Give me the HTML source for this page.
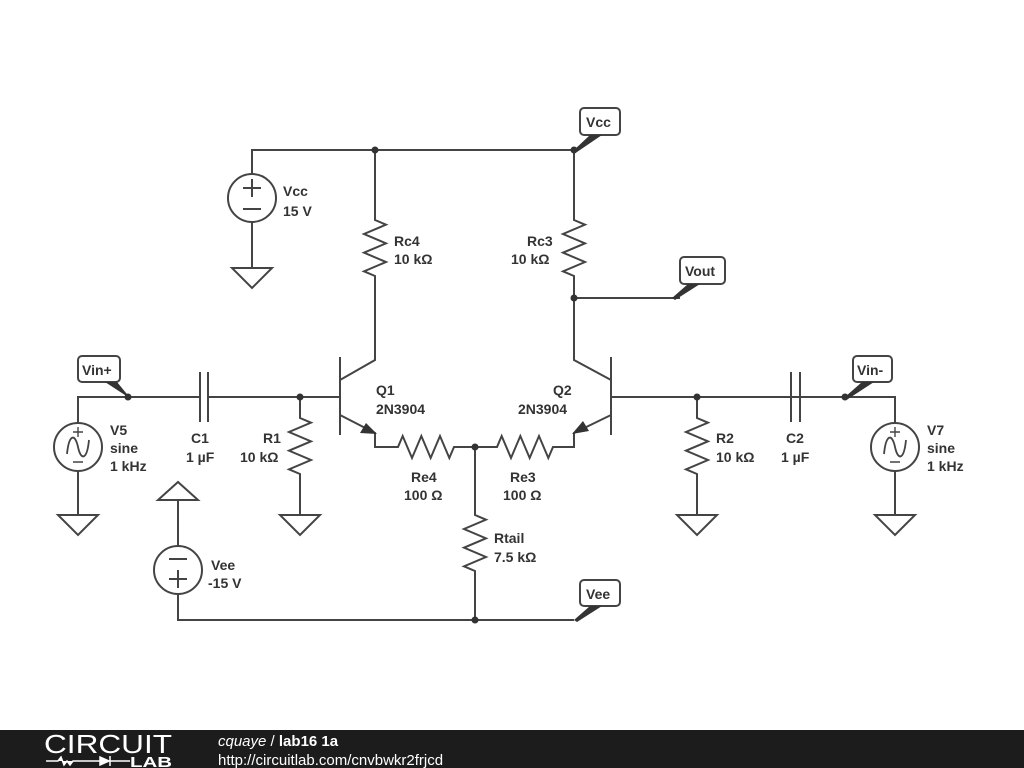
<!DOCTYPE html>
<html><head><meta charset="utf-8"><style>
html,body{margin:0;padding:0;background:#fff;width:1024px;height:768px;overflow:hidden}
svg{display:block}
text{font-family:"Liberation Sans",sans-serif;font-weight:bold;font-size:14px;fill:#333}
</style></head><body>
<svg width="1024" height="768" viewBox="0 0 1024 768">
<g fill="none" stroke="#444" stroke-width="2" stroke-linejoin="miter">
<path d="M252 174 V150 H574"/>
<circle cx="252" cy="198" r="24"/>
<path d="M252 222 V268 M232 268 H272 L252 288 Z"/>
<path d="M243 188 H261 M252 179 V197 M243 209 H261"/>
<path d="M375 150 V220 l11 4.67 l-22 9.33 l22 9.33 l-22 9.33 l22 9.33 l-22 9.33 l11 4.67 V360 L340 380"/>
<path d="M574 150 V220 l11 4.67 l-22 9.33 l22 9.33 l-22 9.33 l22 9.33 l-22 9.33 l11 4.67 V360 L611 380"/>
<path d="M574 298 H680"/>
<path d="M340 357 V435 M300 397 H340 M340 415 L375 433 V447 H398 l4.67 -11 l9.33 22 l9.33 -22 l9.33 22 l9.33 -22 l9.33 22 l4.67 -11 H497 l4.67 -11 l9.33 22 l9.33 -22 l9.33 22 l9.33 -22 l9.33 22 l4.67 -11 H574 V433 L611 415 M611 357 V435 M611 397 H800"/>
<path d="M475 447 V515 l11 4.67 l-22 9.33 l22 9.33 l-22 9.33 l22 9.33 l-22 9.33 l11 4.67 V620 M178 594 V620 H574"/>
<circle cx="178" cy="570" r="24"/>
<path d="M178 546 V500 M158 500 H198 L178 482 Z M169 559 H187 M169 579 H187 M178 570 V588"/>
<path d="M78 423 V397 H200 M200 372 V422 M208 372 V422 M208 397 H300"/>
<circle cx="78" cy="447" r="24"/>
<path d="M78 471 V515 M58 515 H98 L78 535 Z"/>
<path d="M67 454 C69 434 75 433 78 447 C81 461 87 460 89 440" stroke-width="1.8"/>
<path d="M73 432 H83 M78 427 V437 M73 462 H83" stroke-width="1.4"/>
<path d="M300 397 V418 l11 4.67 l-22 9.33 l22 9.33 l-22 9.33 l22 9.33 l-22 9.33 l11 4.67 V515 M280 515 H320 L300 535 Z"/>
<path d="M697 397 V418 l11 4.67 l-22 9.33 l22 9.33 l-22 9.33 l22 9.33 l-22 9.33 l11 4.67 V515 M677 515 H717 L697 535 Z"/>
<path d="M791 372 V422 M800 372 V422 M800 397 H895 V423"/>
<circle cx="895" cy="447" r="24"/>
<path d="M895 471 V515 M875 515 H915 L895 535 Z"/>
<path d="M884 454 C886 434 892 433 895 447 C898 461 904 460 906 440" stroke-width="1.8"/>
<path d="M890 432 H900 M895 427 V437 M890 462 H900" stroke-width="1.4"/>
<rect x="580" y="108" width="40" height="27" rx="4"/>
<rect x="680" y="257" width="45" height="27" rx="4"/>
<rect x="78" y="356" width="42" height="26" rx="4"/>
<rect x="853" y="356" width="39" height="26" rx="4"/>
<rect x="580" y="580" width="40" height="26" rx="4"/>
</g>
<g fill="#333">
<polygon points="377,434 360,433 366,423"/>
<polygon points="572,434 583,421 589,431"/>
<polygon points="574,150 590,135 602,135 577,152"/>
<polygon points="672,298 688,284 700,284 675,300"/>
<polygon points="128,397 105,382 117,382 131,399"/>
<polygon points="845,397 862,382 874,382 848,399"/>
<polygon points="574,620 590,606 602,606 577,622"/>
<circle cx="375" cy="150" r="3.5"/><circle cx="574" cy="150" r="3.5"/>
<circle cx="574" cy="298" r="3.5"/><circle cx="300" cy="397" r="3.5"/>
<circle cx="697" cy="397" r="3.5"/><circle cx="128" cy="397" r="3.5"/>
<circle cx="845" cy="397" r="3.5"/><circle cx="475" cy="447" r="3.5"/>
<circle cx="475" cy="620" r="3.5"/>
</g>
<text x="586" y="127">Vcc</text>
<text x="685" y="276">Vout</text>
<text x="82" y="375">Vin+</text>
<text x="857" y="375">Vin-</text>
<text x="586" y="599">Vee</text>
<text x="283" y="196">Vcc</text><text x="283" y="216">15 V</text>
<text x="394" y="246">Rc4</text><text x="394" y="264">10 kΩ</text>
<text x="527" y="246">Rc3</text><text x="511" y="264">10 kΩ</text>
<text x="376" y="395">Q1</text><text x="376" y="414">2N3904</text>
<text x="553" y="395">Q2</text><text x="518" y="414">2N3904</text>
<text x="411" y="482">Re4</text><text x="404" y="500">100 Ω</text>
<text x="510" y="482">Re3</text><text x="503" y="500">100 Ω</text>
<text x="494" y="543">Rtail</text><text x="494" y="562">7.5 kΩ</text>
<text x="211" y="570">Vee</text><text x="208" y="588">-15 V</text>
<text x="110" y="435">V5</text><text x="110" y="453">sine</text><text x="110" y="471">1 kHz</text>
<text x="191" y="443">C1</text><text x="186" y="462">1 µF</text>
<text x="263" y="443">R1</text><text x="240" y="462">10 kΩ</text>
<text x="716" y="443">R2</text><text x="716" y="462">10 kΩ</text>
<text x="786" y="443">C2</text><text x="781" y="462">1 µF</text>
<text x="927" y="435">V7</text><text x="927" y="453">sine</text><text x="927" y="471">1 kHz</text>
<rect x="0" y="730" width="1024" height="38" fill="#1c1c1c"/>
<text x="44" y="753" textLength="128" lengthAdjust="spacingAndGlyphs" style="font-weight:normal;font-size:26px;fill:#fff">CIRCUIT</text>
<path d="M46 761 H58 l3 -4 l3 8 l3 -4 l3 4 l3 -4 H100 M100 757 V765 L109 761 Z M110 756 V766 M110 761 H130" stroke="#fff" stroke-width="1.5" fill="#fff"/>
<text x="130" y="767" textLength="42" lengthAdjust="spacingAndGlyphs" style="font-size:15px;fill:#fff">LAB</text>
<text x="218" y="746" style="font-size:15px;fill:#fff"><tspan style="font-style:italic;font-weight:normal">cquaye</tspan><tspan style="font-weight:normal"> / </tspan>lab16 1a</text>
<text x="218" y="765" style="font-size:15px;font-weight:normal;fill:#fff">http://circuitlab.com/cnvbwkr2frjcd</text>
</svg>
</body></html>
